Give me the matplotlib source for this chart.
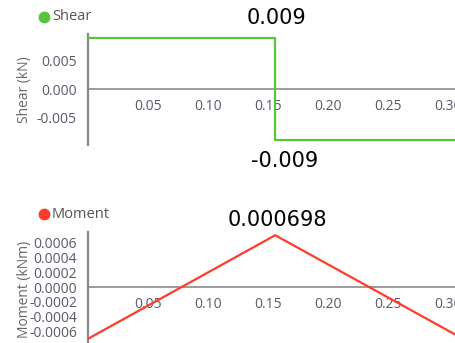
import matplotlib
matplotlib.use("Agg")
import matplotlib.pyplot as plt

plt.rcParams['font.family'] = ['Open Sans', 'DejaVu Sans']

# Data
shear_x = [0.0, 0.156, 0.156, 0.3125]
shear_y = [0.009, 0.009, -0.009, -0.009]
moment_x = [0.0, 0.156, 0.3125]
moment_y = [-0.000698, 0.000698, -0.000698]
x_ticks = [0.05, 0.10, 0.15, 0.20, 0.25, 0.30]
shear_ticks = [-0.005, 0.0, 0.005]
moment_ticks = [-0.0006, -0.0004, -0.0002, 0.0, 0.0002, 0.0004, 0.0006]
shear_max_label = "0.009"
shear_min_label = "-0.009"
moment_max_label = "0.000698"

W, H = 455, 343
fig = plt.figure(figsize=(W / 100, H / 100), dpi=100)

def px_axes(left, top, right, bottom):
    return fig.add_axes([left / W, 1 - bottom / H, (right - left) / W, (bottom - top) / H])

green = '#57c43c'
red = '#ff3b2a'
axis_gray = '#8a8a8a'
tick_col = '#555a66'

def style(ax, ticks, fmt):
    for s in ['top', 'right', 'bottom']:
        ax.spines[s].set_visible(False)
    ax.spines['left'].set_color(axis_gray)
    ax.spines['left'].set_linewidth(1.6)
    ax.axhline(0, color=axis_gray, lw=1.2, zorder=1)
    ax.set_xticks(x_ticks)
    ax.set_xticklabels([f"{v:.2f}" for v in x_ticks])
    ax.set_yticks(ticks)
    ax.set_yticklabels([fmt.format(v) for v in ticks])
    ax.tick_params(axis='x', length=0, pad=7, labelsize=10, colors=tick_col)
    ax.tick_params(axis='y', length=0, pad=8, labelsize=10, colors=tick_col)
    ax.spines['bottom'].set_position(('data', 0))
    ax.set_facecolor('none')

# Shear panel
ax1 = px_axes(88, 34, 463, 145)
ax1.plot(shear_x, shear_y, color=green, lw=1.6, zorder=3)
ax1.set_xlim(0, 0.3125)
ax1.set_ylim(-0.00982, 0.00965)
style(ax1, shear_ticks, "{:.3f}")
ax1.set_ylabel("Shear (kN)", fontsize=10, color='#666666')
ax1.yaxis.set_label_coords(-(88 - 32) / (463 - 88), 0.5)

# Moment panel
ax2 = px_axes(88, 232, 463, 346)
ax2.plot(moment_x, moment_y, color=red, lw=1.6, zorder=3)
ax2.set_xlim(0, 0.3125)
ax2.set_ylim(-0.000795, 0.000742)
style(ax2, moment_ticks, "{:.4f}")
ax2.set_ylabel("Moment (kNm)", fontsize=10, color='#666666')
ax2.yaxis.set_label_coords(-(88 - 32) / (463 - 88), 0.5)

def ftext(x, y, s, **kw):
    fig.text(x / W, 1 - y / H, s, **kw)

# Annotations
ann = dict(fontsize=15, ha='center', va='center', color='black', family='DejaVu Sans')
ftext(277, 18, shear_max_label, **ann)
ftext(285, 161, shear_min_label, **ann)
ftext(277, 220, moment_max_label, **ann)

# Legends
fig.add_artist(plt.Line2D([44 / W], [1 - 17 / H], marker='o', ms=7.5, color=green, lw=0))
ftext(52, 17, "Shear", fontsize=10.5, ha='left', va='center', color='#555555')
fig.add_artist(plt.Line2D([44 / W], [1 - 214 / H], marker='o', ms=7.5, color=red, lw=0))
ftext(52, 214, "Moment", fontsize=10.5, ha='left', va='center', color='#555555')

fig.savefig("out.png", dpi=100)
